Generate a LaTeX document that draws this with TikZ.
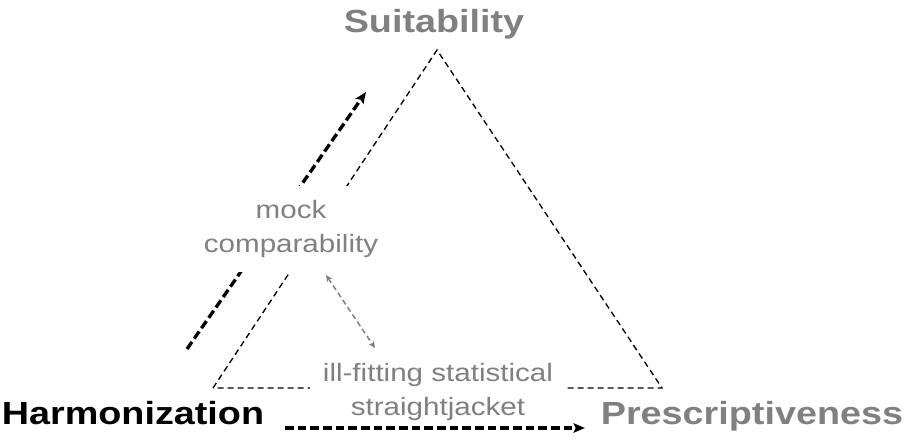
\documentclass[tikz,border=0pt]{standalone}
\usepackage{fontspec}
\setmainfont[FakeStretch=1.18]{Liberation Sans}
\usetikzlibrary{arrows.meta}
\begin{document}
\begin{tikzpicture}[>={Stealth[length=8.5pt,width=7pt,inset=1.5pt]},x=0.75pt,y=-0.75pt,
        lbl/.style={font=\fontsize{24}{28}\selectfont\bfseries},
        note/.style={font=\fontsize{18.8}{25}\selectfont,text=gray,align=center,fill=white},
        sidedash/.style={line width=1pt,dash pattern=on 4.5pt off 3pt},
        bigdash/.style={line width=2.5pt,dash pattern=on 6.5pt off 3pt},
        greydash/.style={line width=1.1pt,gray,dash pattern=on 4pt off 2.5pt,>={Stealth[length=5pt,width=4.5pt]}}]
    \useasboundingbox (0,0) rectangle (910,441);
    \coordinate (A) at (437,50); %dinh tren
    \coordinate (B) at (213,388); %goc trai
    \coordinate (C) at (662,388); %goc phai
    \draw[sidedash] (B)--(A)--(C)--cycle;
    \coordinate (u1) at (187,349);
    \coordinate (u2) at (366,92);
    \draw[bigdash,->] (u1)--(u2);
    \node[note,inner xsep=6pt,inner ysep=11pt] (mock) at (291,229) {mock\\comparability};
    \node[note,inner xsep=10pt,inner ysep=3pt] (ill) at (438,392) {ill-fitting statistical\\straightjacket};
    \node[lbl,text=gray,anchor=base] (suit) at (434,33) {Suitability};
    \node[lbl,anchor=base] (harm) at (133,424) {Harmonization};
    \node[lbl,text=gray,anchor=base] (presc) at (752,424) {Prescriptiveness};
    \coordinate (g1) at (326,275);
    \coordinate (g2) at (375,348);
    \draw[greydash,<->] (g1)--(g2);
    \coordinate (h1) at (285,428);
    \coordinate (h2) at (585,428);
    \draw[bigdash,->] (h1)--(h2);
\end{tikzpicture}
\end{document}
